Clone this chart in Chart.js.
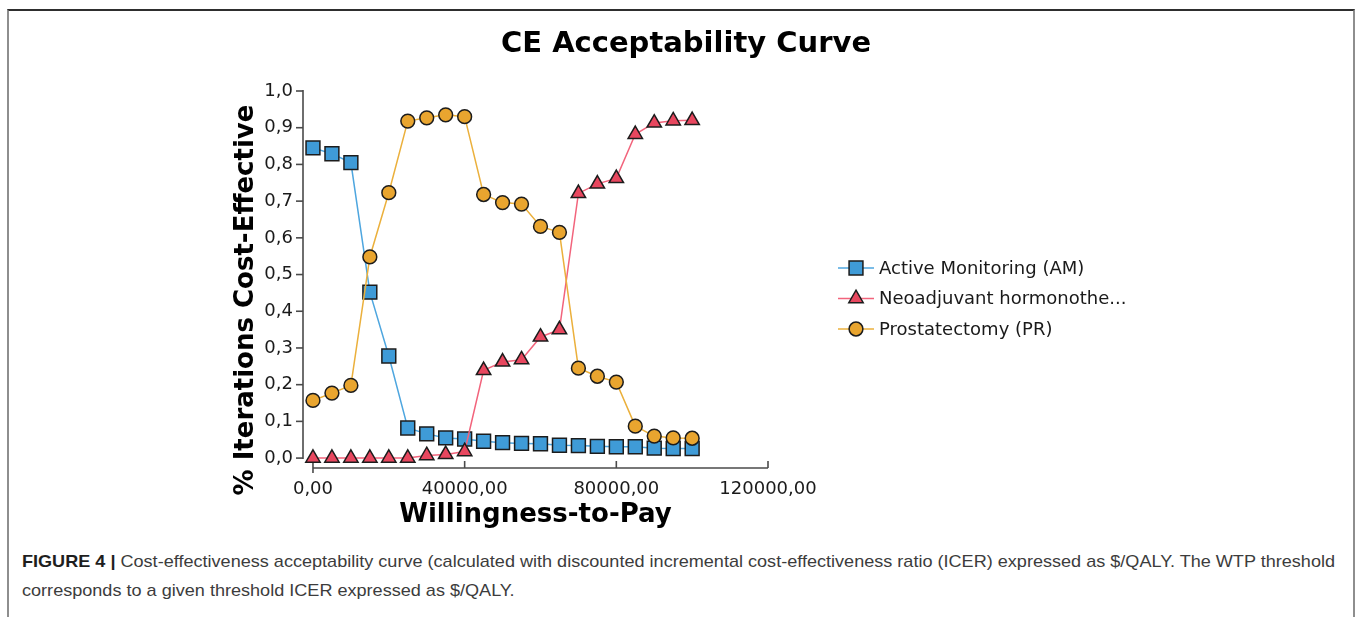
<!DOCTYPE html>
<html>
<head>
<meta charset="utf-8">
<script src="https://cdn.jsdelivr.net/npm/chart.js@4/dist/chart.umd.min.js"></script>
<style>
  html, body { margin: 0; padding: 0; background: #fff; width: 1357px; height: 617px; overflow: hidden; }
  #frame { position: absolute; left: 7px; top: 9px; width: 1344px; height: 640px;
           border-top: 2px solid #2e2e2e; border-left: 2px solid #8e8e8e; border-right: 2px solid #8e8e8e; }
  #c { position: absolute; left: 0; top: 0; }
  .cap { position: absolute; left: 22px; white-space: nowrap; font-family: "Liberation Sans Narrow", "Liberation Sans", Arial, sans-serif;
         font-size: 17px; color: #3c3c3c; transform-origin: 0 50%; line-height: 20px; }
  .cap b { color: #1e1e1e; }
</style>
</head>
<body>
<div id="frame"></div>
<canvas id="c" width="1357" height="545"></canvas>
<div class="cap" id="cap1" style="top:552px"><b>FIGURE 4 |</b> Cost-effectiveness acceptability curve (calculated with discounted incremental cost-effectiveness ratio (ICER) expressed as $/QALY. The WTP threshold</div>
<div class="cap" id="cap2" style="top:581px">corresponds to a given threshold ICER expressed as $/QALY.</div>
<script>
// ---- data ----
const wtp = [0, 5000, 10000, 15000, 20000, 25000, 30000, 35000, 40000, 45000, 50000,
             55000, 60000, 65000, 70000, 75000, 80000, 85000, 90000, 95000, 100000];
const activeMonitoring = [0.845, 0.829, 0.805, 0.452, 0.278, 0.082, 0.066, 0.055, 0.052, 0.046, 0.042,
                          0.040, 0.039, 0.035, 0.034, 0.032, 0.031, 0.031, 0.027, 0.026, 0.026];
const neoadjuvant = [0.000, 0.000, 0.000, 0.000, 0.000, 0.000, 0.007, 0.010, 0.018, 0.239, 0.262,
                     0.268, 0.330, 0.350, 0.721, 0.747, 0.762, 0.882, 0.913, 0.919, 0.920];
const prostatectomy = [0.157, 0.177, 0.198, 0.548, 0.723, 0.918, 0.927, 0.935, 0.930, 0.718, 0.696,
                       0.692, 0.631, 0.615, 0.245, 0.223, 0.207, 0.087, 0.060, 0.055, 0.054];
const seriesLabels = ["Active Monitoring (AM)", "Neoadjuvant hormonothe...", "Prostatectomy (PR)"];
const xTickValues = [0, 40000, 80000, 120000];
const yTickValues = [0, 0.1, 0.2, 0.3, 0.4, 0.5, 0.6, 0.7, 0.8, 0.9, 1.0];
const chartTitle = "CE Acceptability Curve";
const xTitle = "Willingness-to-Pay";
const yTitle = "% Iterations Cost-Effective";

const FONT = "'DejaVu Sans', Verdana, sans-serif";
const CW = 1357, CH = 545;
const AREA = { left: 303, right: 768, top: 91, bottom: 468 };

function pts(arr) { return wtp.map((x, i) => ({ x: x, y: arr[i] })); }

const styles = [
  { line: '#4ea6df', fill: '#3f9bd7', shape: 'rect', r: 9.8 },
  { line: '#f2647c', fill: '#e8475f', shape: 'triangle', r: 8.3 },
  { line: '#ebb03c', fill: '#e9a52f', shape: 'circle', r: 6.9 }
];
const seriesData = [activeMonitoring, neoadjuvant, prostatectomy];

const datasets = seriesData.map((arr, i) => ({
  label: seriesLabels[i],
  data: pts(arr),
  borderColor: styles[i].line,
  backgroundColor: styles[i].fill,
  borderWidth: 1.5,
  pointStyle: styles[i].shape,
  pointRadius: styles[i].r,
  pointHoverRadius: styles[i].r,
  pointBackgroundColor: styles[i].fill,
  pointBorderColor: '#1c1c1c',
  pointBorderWidth: 1.5,
  tension: 0,
  clip: false,
  order: 2 - i
}));

function drawMarker(ctx, shape, x, y, r, fill) {
  ctx.save();
  ctx.fillStyle = fill; ctx.strokeStyle = '#1c1c1c'; ctx.lineWidth = 1.5;
  ctx.beginPath();
  if (shape === 'rect') {
    const s = Math.SQRT1_2 * r;
    ctx.rect(x - s, y - s, 2 * s, 2 * s);
  } else if (shape === 'triangle') {
    let rad = 0;
    ctx.moveTo(x + Math.sin(rad) * r, y - Math.cos(rad) * r);
    rad += 2 * Math.PI / 3;
    ctx.lineTo(x + Math.sin(rad) * r, y - Math.cos(rad) * r);
    rad += 2 * Math.PI / 3;
    ctx.lineTo(x + Math.sin(rad) * r, y - Math.cos(rad) * r);
    ctx.closePath();
  } else {
    ctx.arc(x, y, r, 0, Math.PI * 2);
  }
  ctx.fill(); ctx.stroke();
  ctx.restore();
}

const decor = {
  id: 'decor',
  beforeDatasetsDraw(chart) {
    const ctx = chart.ctx, xs = chart.scales.x, ys = chart.scales.y;
    const ca = chart.chartArea;
    ctx.save();
    ctx.strokeStyle = '#4a4a4a';
    ctx.lineWidth = 1.6;
    // y axis line
    const yTop = ys.getPixelForValue(yTickValues[yTickValues.length - 1]);
    const yBot = ys.getPixelForValue(yTickValues[0]);
    ctx.beginPath(); ctx.moveTo(ca.left, yTop - 1); ctx.lineTo(ca.left, yBot + 1); ctx.stroke();
    yTickValues.forEach(v => {
      const p = ys.getPixelForValue(v);
      ctx.beginPath(); ctx.moveTo(ca.left - 7, p); ctx.lineTo(ca.left, p); ctx.stroke();
    });
    // x axis line
    const x0 = xs.getPixelForValue(xTickValues[0]);
    const x1 = xs.getPixelForValue(xTickValues[xTickValues.length - 1]);
    ctx.beginPath(); ctx.moveTo(x0, ca.bottom); ctx.lineTo(x1, ca.bottom); ctx.stroke();
    xTickValues.forEach(v => {
      const p = xs.getPixelForValue(v);
      ctx.beginPath(); ctx.moveTo(p, ca.bottom - 7); ctx.lineTo(p, ca.bottom + (v === 0 ? 5 : 0)); ctx.stroke();
    });
    ctx.restore();
  },
  afterDraw(chart) {
    const ctx = chart.ctx, ca = chart.chartArea;
    ctx.save();
    ctx.fillStyle = '#000';
    ctx.textAlign = 'center';
    ctx.textBaseline = 'middle';
    ctx.font = "bold 29px " + FONT;
    ctx.fillText(chartTitle, 686, 44);
    ctx.font = "bold 26px " + FONT;
    ctx.fillText(xTitle, (ca.left + ca.right) / 2, 515);
    ctx.save();
    ctx.translate(246, 300);
    ctx.rotate(-Math.PI / 2);
    ctx.fillText(yTitle, 0, 0);
    ctx.restore();
    // legend
    const rows = [268, 298.5, 329];
    ctx.font = "18px " + FONT;
    ctx.textAlign = 'left';
    ctx.fillStyle = '#1a1a1a';
    chart.data.datasets.forEach((ds, i) => {
      const y = rows[i];
      ctx.strokeStyle = ds.borderColor; ctx.lineWidth = 1.5;
      ctx.beginPath(); ctx.moveTo(838, y); ctx.lineTo(874, y); ctx.stroke();
      drawMarker(ctx, ds.pointStyle, 856, y, ds.pointRadius, ds.pointBackgroundColor);
      ctx.fillStyle = '#1a1a1a';
      ctx.fillText(ds.label, 879, y + 1);
    });
    ctx.restore();
  }
};

new Chart(document.getElementById('c'), {
  type: 'line',
  data: { datasets: datasets },
  plugins: [decor],
  options: {
    responsive: false,
    animation: false,
    devicePixelRatio: 1,
    layout: { padding: { left: 0, top: AREA.top, right: CW - AREA.right, bottom: 0 } },
    plugins: { legend: { display: false }, title: { display: false }, tooltip: { enabled: false } },
    scales: {
      x: {
        type: 'linear',
        min: -2630, max: 120000,
        grid: { display: false, drawTicks: false },
        border: { display: false },
        afterFit: s => { s.height = CH - AREA.bottom; },
        afterBuildTicks: s => { s.ticks = xTickValues.map(v => ({ value: v })); },
        ticks: {
          padding: 11,
          maxRotation: 0,
          color: '#1a1a1a',
          font: { family: FONT, size: 18 },
          callback: v => v.toFixed(2).replace('.', ',')
        }
      },
      y: {
        type: 'linear',
        min: -0.027, max: 1.0,
        grid: { display: false, drawTicks: false },
        border: { display: false },
        afterFit: s => { s.width = AREA.left; },
        afterBuildTicks: s => { s.ticks = yTickValues.map(v => ({ value: v })); },
        ticks: {
          padding: 10,
          color: '#1a1a1a',
          font: { family: FONT, size: 18 },
          callback: v => v.toFixed(1).replace('.', ',')
        }
      }
    }
  }
});

// caption width fitting
function fitCap() {
  const c1 = document.getElementById('cap1'), c2 = document.getElementById('cap2');
  const w = c1.getBoundingClientRect().width;
  const k = 1313 / w;
  c1.style.transform = 'scaleX(' + k + ')';
  c2.style.transform = 'scaleX(' + k + ')';
}
fitCap();
</script>
</body>
</html>
